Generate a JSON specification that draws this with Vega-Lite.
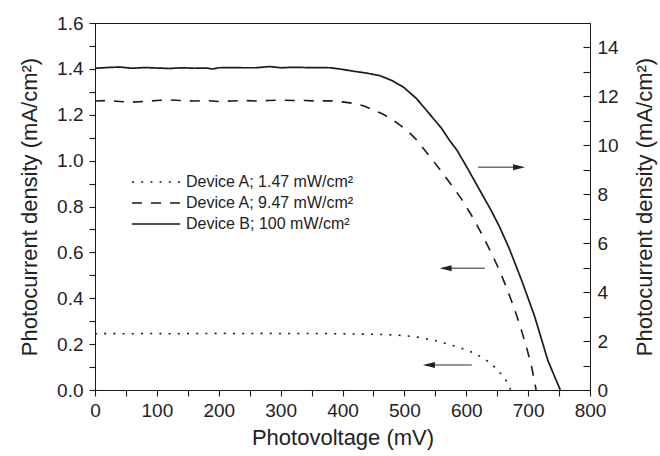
{
  "$schema": "https://vega.github.io/schema/vega-lite/v6.json",
  "width": 495,
  "height": 367,
  "autosize": {"type": "none"},
  "padding": {"left": 95, "top": 23, "right": 70, "bottom": 66},
  "background": "white",
  "config": {
    "font": "Liberation Sans",
    "view": {"stroke": "#1a1a1a", "strokeWidth": 1},
    "axis": {
      "labelFont": "Liberation Sans", "titleFont": "Liberation Sans",
      "labelFontSize": 19, "titleFontSize": 22, "titleFontWeight": "normal",
      "labelColor": "#222", "titleColor": "#222",
      "domainColor": "#1a1a1a", "ticks": true, "tickColor": "#1a1a1a", "tickWidth": 1.1, "tickOpacity": 1,
      "grid": false, "labelFlush": false, "labelOverlap": false
    }
  },
  "datasets": {
    "devA": [
      {"v": 0, "j": 0.245, "s": "Device A; 1.47 mW/cm²"},
      {"v": 25, "j": 0.246, "s": "Device A; 1.47 mW/cm²"},
      {"v": 50, "j": 0.245, "s": "Device A; 1.47 mW/cm²"},
      {"v": 75, "j": 0.246, "s": "Device A; 1.47 mW/cm²"},
      {"v": 100, "j": 0.246, "s": "Device A; 1.47 mW/cm²"},
      {"v": 125, "j": 0.245, "s": "Device A; 1.47 mW/cm²"},
      {"v": 150, "j": 0.246, "s": "Device A; 1.47 mW/cm²"},
      {"v": 175, "j": 0.246, "s": "Device A; 1.47 mW/cm²"},
      {"v": 200, "j": 0.247, "s": "Device A; 1.47 mW/cm²"},
      {"v": 225, "j": 0.246, "s": "Device A; 1.47 mW/cm²"},
      {"v": 250, "j": 0.246, "s": "Device A; 1.47 mW/cm²"},
      {"v": 275, "j": 0.247, "s": "Device A; 1.47 mW/cm²"},
      {"v": 300, "j": 0.246, "s": "Device A; 1.47 mW/cm²"},
      {"v": 325, "j": 0.246, "s": "Device A; 1.47 mW/cm²"},
      {"v": 350, "j": 0.246, "s": "Device A; 1.47 mW/cm²"},
      {"v": 375, "j": 0.246, "s": "Device A; 1.47 mW/cm²"},
      {"v": 400, "j": 0.245, "s": "Device A; 1.47 mW/cm²"},
      {"v": 425, "j": 0.244, "s": "Device A; 1.47 mW/cm²"},
      {"v": 450, "j": 0.243, "s": "Device A; 1.47 mW/cm²"},
      {"v": 475, "j": 0.241, "s": "Device A; 1.47 mW/cm²"},
      {"v": 500, "j": 0.237, "s": "Device A; 1.47 mW/cm²"},
      {"v": 525, "j": 0.229, "s": "Device A; 1.47 mW/cm²"},
      {"v": 550, "j": 0.215, "s": "Device A; 1.47 mW/cm²"},
      {"v": 575, "j": 0.197, "s": "Device A; 1.47 mW/cm²"},
      {"v": 600, "j": 0.175, "s": "Device A; 1.47 mW/cm²"},
      {"v": 615, "j": 0.158, "s": "Device A; 1.47 mW/cm²"},
      {"v": 630, "j": 0.135, "s": "Device A; 1.47 mW/cm²"},
      {"v": 645, "j": 0.102, "s": "Device A; 1.47 mW/cm²"},
      {"v": 658, "j": 0.065, "s": "Device A; 1.47 mW/cm²"},
      {"v": 666, "j": 0.035, "s": "Device A; 1.47 mW/cm²"},
      {"v": 672, "j": 0, "s": "Device A; 1.47 mW/cm²"},
      {"v": 0, "j": 1.26, "s": "Device A; 9.47 mW/cm²"},
      {"v": 20, "j": 1.262, "s": "Device A; 9.47 mW/cm²"},
      {"v": 40, "j": 1.258, "s": "Device A; 9.47 mW/cm²"},
      {"v": 60, "j": 1.255, "s": "Device A; 9.47 mW/cm²"},
      {"v": 80, "j": 1.258, "s": "Device A; 9.47 mW/cm²"},
      {"v": 100, "j": 1.262, "s": "Device A; 9.47 mW/cm²"},
      {"v": 120, "j": 1.265, "s": "Device A; 9.47 mW/cm²"},
      {"v": 140, "j": 1.262, "s": "Device A; 9.47 mW/cm²"},
      {"v": 160, "j": 1.26, "s": "Device A; 9.47 mW/cm²"},
      {"v": 180, "j": 1.262, "s": "Device A; 9.47 mW/cm²"},
      {"v": 200, "j": 1.258, "s": "Device A; 9.47 mW/cm²"},
      {"v": 220, "j": 1.26, "s": "Device A; 9.47 mW/cm²"},
      {"v": 240, "j": 1.262, "s": "Device A; 9.47 mW/cm²"},
      {"v": 260, "j": 1.26, "s": "Device A; 9.47 mW/cm²"},
      {"v": 280, "j": 1.262, "s": "Device A; 9.47 mW/cm²"},
      {"v": 300, "j": 1.264, "s": "Device A; 9.47 mW/cm²"},
      {"v": 320, "j": 1.262, "s": "Device A; 9.47 mW/cm²"},
      {"v": 340, "j": 1.262, "s": "Device A; 9.47 mW/cm²"},
      {"v": 360, "j": 1.26, "s": "Device A; 9.47 mW/cm²"},
      {"v": 380, "j": 1.261, "s": "Device A; 9.47 mW/cm²"},
      {"v": 400, "j": 1.256, "s": "Device A; 9.47 mW/cm²"},
      {"v": 417, "j": 1.25, "s": "Device A; 9.47 mW/cm²"},
      {"v": 435, "j": 1.238, "s": "Device A; 9.47 mW/cm²"},
      {"v": 449, "j": 1.222, "s": "Device A; 9.47 mW/cm²"},
      {"v": 465, "j": 1.203, "s": "Device A; 9.47 mW/cm²"},
      {"v": 477, "j": 1.185, "s": "Device A; 9.47 mW/cm²"},
      {"v": 493, "j": 1.155, "s": "Device A; 9.47 mW/cm²"},
      {"v": 509, "j": 1.12, "s": "Device A; 9.47 mW/cm²"},
      {"v": 520, "j": 1.09, "s": "Device A; 9.47 mW/cm²"},
      {"v": 533, "j": 1.045, "s": "Device A; 9.47 mW/cm²"},
      {"v": 547, "j": 0.998, "s": "Device A; 9.47 mW/cm²"},
      {"v": 562, "j": 0.945, "s": "Device A; 9.47 mW/cm²"},
      {"v": 577, "j": 0.89, "s": "Device A; 9.47 mW/cm²"},
      {"v": 593, "j": 0.83, "s": "Device A; 9.47 mW/cm²"},
      {"v": 610, "j": 0.755, "s": "Device A; 9.47 mW/cm²"},
      {"v": 627, "j": 0.67, "s": "Device A; 9.47 mW/cm²"},
      {"v": 641, "j": 0.595, "s": "Device A; 9.47 mW/cm²"},
      {"v": 654, "j": 0.52, "s": "Device A; 9.47 mW/cm²"},
      {"v": 666, "j": 0.44, "s": "Device A; 9.47 mW/cm²"},
      {"v": 677, "j": 0.36, "s": "Device A; 9.47 mW/cm²"},
      {"v": 687, "j": 0.28, "s": "Device A; 9.47 mW/cm²"},
      {"v": 696, "j": 0.2, "s": "Device A; 9.47 mW/cm²"},
      {"v": 705, "j": 0.11, "s": "Device A; 9.47 mW/cm²"},
      {"v": 713, "j": 0, "s": "Device A; 9.47 mW/cm²"}
    ],
    "devB": [
      {"v": 0, "j": 13.15, "s": "Device B; 100 mW/cm²"},
      {"v": 20, "j": 13.18, "s": "Device B; 100 mW/cm²"},
      {"v": 40, "j": 13.2, "s": "Device B; 100 mW/cm²"},
      {"v": 60, "j": 13.15, "s": "Device B; 100 mW/cm²"},
      {"v": 80, "j": 13.18, "s": "Device B; 100 mW/cm²"},
      {"v": 100, "j": 13.16, "s": "Device B; 100 mW/cm²"},
      {"v": 120, "j": 13.14, "s": "Device B; 100 mW/cm²"},
      {"v": 140, "j": 13.17, "s": "Device B; 100 mW/cm²"},
      {"v": 160, "j": 13.15, "s": "Device B; 100 mW/cm²"},
      {"v": 180, "j": 13.16, "s": "Device B; 100 mW/cm²"},
      {"v": 190, "j": 13.12, "s": "Device B; 100 mW/cm²"},
      {"v": 200, "j": 13.17, "s": "Device B; 100 mW/cm²"},
      {"v": 220, "j": 13.18, "s": "Device B; 100 mW/cm²"},
      {"v": 240, "j": 13.17, "s": "Device B; 100 mW/cm²"},
      {"v": 260, "j": 13.17, "s": "Device B; 100 mW/cm²"},
      {"v": 283, "j": 13.22, "s": "Device B; 100 mW/cm²"},
      {"v": 300, "j": 13.17, "s": "Device B; 100 mW/cm²"},
      {"v": 320, "j": 13.19, "s": "Device B; 100 mW/cm²"},
      {"v": 340, "j": 13.18, "s": "Device B; 100 mW/cm²"},
      {"v": 360, "j": 13.18, "s": "Device B; 100 mW/cm²"},
      {"v": 380, "j": 13.17, "s": "Device B; 100 mW/cm²"},
      {"v": 396, "j": 13.12, "s": "Device B; 100 mW/cm²"},
      {"v": 420, "j": 13.02, "s": "Device B; 100 mW/cm²"},
      {"v": 440, "j": 12.95, "s": "Device B; 100 mW/cm²"},
      {"v": 460, "j": 12.85, "s": "Device B; 100 mW/cm²"},
      {"v": 480, "j": 12.65, "s": "Device B; 100 mW/cm²"},
      {"v": 500, "j": 12.35, "s": "Device B; 100 mW/cm²"},
      {"v": 520, "j": 11.9, "s": "Device B; 100 mW/cm²"},
      {"v": 540, "j": 11.3, "s": "Device B; 100 mW/cm²"},
      {"v": 560, "j": 10.7, "s": "Device B; 100 mW/cm²"},
      {"v": 573, "j": 10.2, "s": "Device B; 100 mW/cm²"},
      {"v": 585, "j": 9.8, "s": "Device B; 100 mW/cm²"},
      {"v": 600, "j": 9.15, "s": "Device B; 100 mW/cm²"},
      {"v": 620, "j": 8.25, "s": "Device B; 100 mW/cm²"},
      {"v": 640, "j": 7.35, "s": "Device B; 100 mW/cm²"},
      {"v": 654, "j": 6.66, "s": "Device B; 100 mW/cm²"},
      {"v": 670, "j": 5.75, "s": "Device B; 100 mW/cm²"},
      {"v": 690, "j": 4.45, "s": "Device B; 100 mW/cm²"},
      {"v": 710, "j": 3.05, "s": "Device B; 100 mW/cm²"},
      {"v": 732, "j": 1.2, "s": "Device B; 100 mW/cm²"},
      {"v": 752, "j": 0, "s": "Device B; 100 mW/cm²"}
    ],
    "arrows": [
      {"x1": 619, "x2": 690, "y": 0.971, "tip": 695, "dir": "right"},
      {"x1": 562, "x2": 630, "y": 0.531, "tip": 557, "dir": "left"},
      {"x1": 535, "x2": 609, "y": 0.109, "tip": 530, "dir": "left"}
    ]
  },
  "layer": [
    {
      "data": {"name": "devA"},
      "mark": {"type": "line", "strokeWidth": 1.6, "color": "#1a1a1a"},
      "encoding": {
        "x": {
          "field": "v", "type": "quantitative",
          "scale": {"domain": [0, 800], "nice": false},
          "axis": {
            "orient": "bottom",
            "values": [0, 50, 100, 150, 200, 250, 300, 350, 400, 450, 500, 550, 600, 650, 700, 750, 800],
            "format": "d",
            "labelExpr": "datum.value % 100 === 0 ? datum.label : ''",
            "tickSize": 6, "labelPadding": 5,
            "title": "Photovoltage (mV)", "titlePadding": 7
          }
        },
        "y": {
          "field": "j", "type": "quantitative",
          "scale": {"domain": [0, 1.6], "nice": false},
          "axis": {
            "orient": "left",
            "values": [0, 0.1, 0.2, 0.3, 0.4, 0.5, 0.6, 0.7, 0.8, 0.9, 1.0, 1.1, 1.2, 1.3, 1.4, 1.5, 1.6],
            "format": ".1f",
            "labelExpr": "abs(datum.value * 5 - round(datum.value * 5)) < 0.001 ? datum.label : ''",
            "tickSize": 6, "labelPadding": 6,
            "title": "Photocurrent density (mA/cm²)", "titlePadding": 15
          }
        },
        "strokeDash": {
          "field": "s", "type": "nominal",
          "scale": {"domain": ["Device A; 1.47 mW/cm²", "Device A; 9.47 mW/cm²", "Device B; 100 mW/cm²"], "range": [[2, 7.2], [10, 9], [1, 0]]},
          "legend": {
            "orient": "none", "legendX": 29, "legendY": 151, "title": null,
            "symbolType": "M0,0H8", "symbolSize": 144, "symbolStrokeWidth": 1.5, "symbolStrokeColor": "#1a1a1a",
            "labelFont": "Liberation Sans", "labelFontSize": 16, "labelColor": "#222",
            "labelOffset": 46, "labelLimit": 400, "rowPadding": 5, "padding": 0
          }
        }
      }
    },
    {
      "data": {"name": "devB"},
      "mark": {"type": "line", "strokeWidth": 1.7, "color": "#1a1a1a"},
      "encoding": {
        "x": {"field": "v", "type": "quantitative", "axis": null},
        "y": {
          "field": "j", "type": "quantitative",
          "scale": {"domain": [0, 15], "nice": false},
          "axis": {
            "orient": "right",
            "values": [0, 1, 2, 3, 4, 5, 6, 7, 8, 9, 10, 11, 12, 13, 14],
            "labelExpr": "datum.value % 2 === 0 ? datum.label : ''",
            "tickSize": -7, "labelPadding": 14,
            "title": "Photocurrent density (mA/cm²)", "titleAngle": 270, "titlePadding": 38
          }
        },
        "strokeDash": {"field": "s", "type": "nominal"}
      }
    },
    {
      "data": {"name": "arrows"},
      "mark": {"type": "rule", "color": "#707070", "strokeWidth": 1.4},
      "encoding": {
        "x": {"field": "x1", "type": "quantitative", "axis": null},
        "x2": {"field": "x2"},
        "y": {"field": "y", "type": "quantitative", "scale": {"domain": [0, 1.6], "nice": false}, "axis": null}
      }
    },
    {
      "data": {"name": "arrows"},
      "mark": {"type": "point", "filled": true, "color": "#222", "opacity": 1, "size": 144},
      "encoding": {
        "x": {"field": "tip", "type": "quantitative", "axis": null},
        "y": {"field": "y", "type": "quantitative", "scale": {"domain": [0, 1.6], "nice": false}, "axis": null},
        "shape": {
          "field": "dir", "type": "nominal",
          "scale": {"domain": ["right", "left"], "range": ["M0,0L-2,-0.5L-2,0.5Z", "M0,0L2,-0.5L2,0.5Z"]},
          "legend": null
        }
      }
    }
  ],
  "resolve": {"scale": {"y": "independent"}, "axis": {"x": "independent"}}
}
